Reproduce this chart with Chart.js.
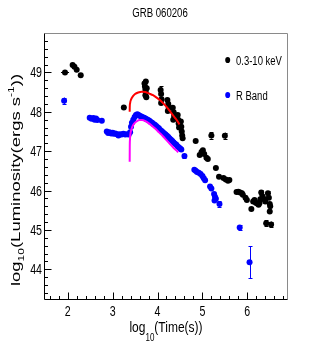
<!DOCTYPE html>
<html><head><meta charset="utf-8">
<script src="https://cdn.jsdelivr.net/npm/chart.js@4"></script>
<style>html,body{margin:0;padding:0;background:#fff;overflow:hidden}#wrap{width:319px;height:354px;position:relative}</style>
</head><body><div id="wrap"><canvas id="c" width="319" height="354"></canvas></div>
<script>
const chartTitle = "GRB 060206";
const xTickValues = [2, 3, 4, 5, 6];
const xTickLabels = ["2", "3", "4", "5", "6"];
const yTickValues = [44, 45, 46, 47, 48, 49];
const yTickLabels = ["44", "45", "46", "47", "48", "49"];
const legendLabels = ["0.3-10 keV", "R Band"];

// X-ray 0.3-10 keV: log10(time), log10(luminosity), error
const xrayTime = [1.94,2.11,2.15,2.20,2.29,3.25,3.71,3.72,3.73,3.74,3.73,3.75,3.74,3.76,
  4.07,4.08,4.09,4.08,4.22,4.24,4.25,4.23,4.34,4.36,4.37,4.35,4.45,4.46,4.47,4.48,
  4.52,4.53,4.54,4.55,4.56,4.85,4.94,4.98,5.01,5.04,5.09,5.12,5.20,5.30,5.37,5.47,
  5.52,5.57,5.60,5.50,5.76,5.80,5.84,5.88,5.90,5.96,5.99,6.09,6.13,6.16,6.19,6.22,
  6.25,6.27,6.29,6.31,6.34,6.38,6.40,6.46,6.48,6.50,6.51,6.50,6.42,6.53];
const xrayLum = [49.00,49.19,49.14,49.07,48.93,48.11,48.72,48.64,48.56,48.49,48.42,48.37,48.77,48.60,
  48.55,48.45,48.32,48.22,48.30,48.20,48.10,48.02,48.10,47.99,47.89,47.80,47.92,47.80,47.70,47.60,
  47.75,47.62,47.50,47.40,47.33,47.26,46.90,46.98,47.02,46.93,46.83,46.80,47.40,46.57,46.35,46.32,
  46.28,46.25,46.27,47.39,45.96,45.97,45.95,45.93,45.89,45.82,45.76,45.53,45.72,45.76,45.69,45.67,
  45.64,45.68,45.78,45.95,45.85,45.78,45.72,45.93,45.82,45.66,45.60,45.47,45.17,45.14];
const xrayErr = [0.04,0.04,0.04,0.04,0.04,0.05,0.05,0.05,0.05,0.05,0.05,0.05,0.05,0.05,
  0.10,0.05,0.05,0.05,0.05,0.05,0.05,0.05,0.05,0.05,0.05,0.05,0.05,0.05,0.05,0.05,
  0.05,0.05,0.05,0.05,0.05,0.04,0.04,0.04,0.04,0.04,0.04,0.04,0.08,0.04,0.04,0.04,
  0.04,0.04,0.04,0.08,0.04,0.04,0.04,0.04,0.04,0.04,0.04,0.05,0.05,0.05,0.05,0.05,
  0.05,0.05,0.05,0.06,0.05,0.05,0.05,0.06,0.05,0.05,0.05,0.05,0.07,0.07];
const xrayTimeErr = [0.09];

// R band optical
const rbandTime = [1.92,2.49,2.53,2.57,2.60,2.63,2.66,2.76,
  2.87,2.90,2.93,2.97,3.00,3.03,3.06,3.10,3.13,3.16,3.20,3.24,3.28,3.32,3.36,
  3.39,3.41,3.43,3.46,3.49,3.52,3.55,3.58,3.61,3.64,3.67,3.70,3.73,3.76,3.79,3.82,
  3.85,3.88,3.91,3.94,3.97,4.00,4.03,4.06,4.09,4.12,4.15,4.18,4.21,4.24,4.27,4.30,
  4.33,4.36,4.39,4.42,4.45,4.48,4.51,4.53,
  4.60,4.82,4.85,4.88,4.92,4.96,5.00,5.03,5.06,5.17,5.20,5.26,5.28,5.30,5.27,5.38,5.83,6.05];
const rbandLum = [48.28,47.85,47.82,47.84,47.80,47.83,47.79,47.77,
  47.50,47.46,47.48,47.45,47.47,47.44,47.45,47.43,47.40,47.43,47.42,47.44,47.42,47.43,47.42,
  47.48,47.62,47.72,47.80,47.87,47.92,47.94,47.92,47.89,47.88,47.86,47.85,47.83,47.81,47.79,47.77,
  47.74,47.72,47.69,47.67,47.64,47.61,47.58,47.54,47.51,47.48,47.45,47.42,47.39,47.36,47.32,47.29,
  47.26,47.22,47.19,47.16,47.12,47.09,47.06,47.04,
  46.88,46.53,46.50,46.47,46.45,46.42,46.37,46.31,46.26,46.10,46.05,45.91,45.84,45.79,45.75,45.66,45.06,44.18];
const rbandErr = [0.08,0.03,0.03,0.03,0.03,0.03,0.03,0.03,
  0.03,0.03,0.03,0.03,0.03,0.03,0.03,0.03,0.05,0.03,0.03,0.03,0.03,0.03,0.03,
  0.03,0.03,0.03,0.03,0.03,0.03,0.03,0.03,0.03,0.03,0.03,0.03,0.03,0.03,0.03,0.03,
  0.03,0.03,0.03,0.03,0.03,0.03,0.03,0.03,0.03,0.03,0.03,0.03,0.03,0.03,0.03,0.03,
  0.03,0.03,0.03,0.03,0.03,0.03,0.03,0.03,
  0.06,0.03,0.03,0.03,0.03,0.03,0.03,0.03,0.03,0.03,0.03,0.03,0.03,0.03,0.03,0.07,0.06,0.40];

// fitted model curves
const xrayFitTime = [3.38,3.382,3.39,3.41,3.45,3.50,3.57,3.65,3.73,3.82,3.90,3.98,4.06,4.14,4.22,4.30,4.38,4.44,4.49];
const xrayFitLum  = [48.00,48.12,48.22,48.31,48.39,48.45,48.49,48.51,48.50,48.46,48.42,48.36,48.29,48.20,48.10,47.98,47.86,47.77,47.68];
const rbandFitTime = [3.38,3.382,3.387,3.395,3.41,3.44,3.48,3.54,3.60,3.66,3.73,3.80,3.88,3.96,4.04,4.12,4.20,4.28,4.36,4.42,4.46];
const rbandFitLum  = [46.73,47.10,47.30,47.42,47.52,47.62,47.70,47.76,47.79,47.79,47.76,47.71,47.64,47.56,47.47,47.38,47.28,47.18,47.08,47.02,46.97];

const xMin = 1.472, xMax = 6.884, yMin = 43.246, yMax = 50.0;

function pts(xs, ys) { return xs.map((x, i) => ({x: x, y: ys[i]})); }

const FONT = '"Liberation Sans", Arial, sans-serif';
const SX = 0.76;
function ctext(ctx, str, x, y, size, align, sx) {
  ctx.save();
  ctx.font = size + 'px ' + FONT;
  const w = ctx.measureText(str).width * sx;
  let x0 = align === 'center' ? x - w / 2 : (align === 'right' ? x - w : x);
  ctx.translate(x0, y);
  ctx.scale(sx, 1);
  ctx.textAlign = 'left';
  ctx.textBaseline = 'alphabetic';
  ctx.fillStyle = '#000';
  ctx.fillText(str, 0, 0);
  ctx.restore();
  return w;
}
function tw(ctx, str, size) { ctx.font = size + 'px ' + FONT; return ctx.measureText(str).width; }

const decor = {
  id: 'decor',
  beforeDatasetsDraw(chart) {
    const ctx = chart.ctx, xs = chart.scales.x, ys = chart.scales.y;
    const groups = [
      {t: xrayTime, l: xrayLum, e: xrayErr, c: '#000000', te: xrayTimeErr},
      {t: rbandTime, l: rbandLum, e: rbandErr, c: '#0000ff', te: []}
    ];
    ctx.save();
    ctx.lineWidth = 1;
    groups.forEach(g => {
      ctx.strokeStyle = g.c;
      g.t.forEach((t, i) => {
        const px = Math.round(xs.getPixelForValue(t)) + 0.5;
        const y1 = ys.getPixelForValue(g.l[i] + g.e[i]);
        const y2 = ys.getPixelForValue(g.l[i] - g.e[i]);
        ctx.beginPath(); ctx.moveTo(px, y1); ctx.lineTo(px, y2); ctx.stroke();
        if (g.e[i] >= 0.06) {
          ctx.beginPath();
          ctx.moveTo(px - 2, Math.round(y1) + 0.5); ctx.lineTo(px + 2, Math.round(y1) + 0.5);
          ctx.moveTo(px - 2, Math.round(y2) + 0.5); ctx.lineTo(px + 2, Math.round(y2) + 0.5);
          ctx.stroke();
        }
        if (g.te[i]) {
          const py = Math.round(ys.getPixelForValue(g.l[i])) + 0.5;
          ctx.beginPath();
          ctx.moveTo(xs.getPixelForValue(t - g.te[i]), py);
          ctx.lineTo(xs.getPixelForValue(t + g.te[i]), py);
          ctx.stroke();
        }
      });
    });
    ctx.restore();
  },
  afterDraw(chart) {
    const ctx = chart.ctx, xs = chart.scales.x, ys = chart.scales.y, a = chart.chartArea;
    const L = Math.round(a.left) + 0.5, R = Math.round(a.right) + 0.5, T = Math.round(a.top) + 0.5, B = Math.round(a.bottom) + 0.5;
    ctx.save();
    // frame
    ctx.lineWidth = 1;
    ctx.strokeStyle = '#8a8a8a';
    ctx.beginPath(); ctx.moveTo(L, T); ctx.lineTo(R, T); ctx.lineTo(R, B); ctx.stroke();
    ctx.strokeStyle = '#000';
    ctx.beginPath(); ctx.moveTo(L, T); ctx.lineTo(L, B); ctx.lineTo(R, B); ctx.stroke();
    // ticks
    ctx.beginPath();
    for (let k = Math.ceil(xMin * 5); k <= Math.floor(xMax * 5); k++) {
      const v = k / 5; const major = Math.abs(v - Math.round(v)) < 1e-6;
      const px = Math.round(xs.getPixelForValue(v)) + 0.5;
      ctx.moveTo(px, B); ctx.lineTo(px, B - (major ? 7 : 3.5));
    }
    for (let k = Math.ceil(yMin * 5); k <= Math.floor(yMax * 5 - 0.01); k++) {
      const v = k / 5; const major = Math.abs(v - Math.round(v)) < 1e-6;
      const py = Math.round(ys.getPixelForValue(v)) + 0.5;
      ctx.moveTo(L, py); ctx.lineTo(L + (major ? 7 : 3.5), py);
    }
    ctx.stroke();
    // tick labels
    xTickValues.forEach((v, i) => ctext(ctx, xTickLabels[i], xs.getPixelForValue(v), 316, 14, 'center', SX));
    yTickValues.forEach((v, i) => ctext(ctx, yTickLabels[i], 42, ys.getPixelForValue(v) + 5, 14, 'right', SX));
    // title
    ctext(ctx, chartTitle, 160, 16.5, 12, 'center', 0.8);
    // x title: log_10(Time(s))
    {
      const s1 = 'log', s2 = '10', s3 = '(Time(s))';
      const w = (tw(ctx, s1, 15) + tw(ctx, s2, 10) + tw(ctx, s3, 15)) * 0.8;
      let x = 166 - w / 2;
      x += ctext(ctx, s1, x, 332, 15, 'left', 0.8);
      x += ctext(ctx, s2, x, 341, 10, 'left', 0.8);
      ctext(ctx, s3, x, 332, 15, 'left', 0.8);
    }
    // y title: log_10(Luminosity(ergs s^-1))
    {
      const parts = [['log', 18.5, 0], ['10', 12, 6], ['(Luminosity(ergs s', 18.5, 0], ['-1', 12, -8], ['))', 18.5, 0]];
      let total = 0; parts.forEach(p => total += tw(ctx, p[0], p[1]));
      ctx.save();
      ctx.translate(19.5, 180);
      ctx.rotate(-Math.PI / 2);
      ctx.scale(1, 0.72);
      ctx.fillStyle = '#000';
      ctx.textBaseline = 'alphabetic';
      let u = -total / 2;
      parts.forEach(p => {
        ctx.font = p[1] + 'px ' + FONT;
        ctx.fillText(p[0], u, p[2]);
        u += ctx.measureText(p[0]).width;
      });
      ctx.restore();
    }
    // legend
    const legColors = ['#000000', '#0000ff'];
    const legY = [60, 95];
    legendLabels.forEach((lab, i) => {
      ctx.fillStyle = legColors[i];
      ctx.beginPath(); ctx.ellipse(227.7, legY[i], 2.5, 3.1, 0, 0, Math.PI * 2); ctx.fill();
      ctext(ctx, lab, 236, legY[i] + 4.5, 12.5, 'left', SX);
    });
    ctx.restore();
  }
};

new Chart(document.getElementById('c'), {
  type: 'scatter',
  data: {
    datasets: [
      {label: 'fit X', data: pts(xrayFitTime, xrayFitLum), showLine: true, borderColor: '#ff0000', borderWidth: 2,
       pointRadius: 0, cubicInterpolationMode: 'monotone', order: 0},
      {label: 'fit R', data: pts(rbandFitTime, rbandFitLum), showLine: true, borderColor: '#ff00ff', borderWidth: 2,
       pointRadius: 0, cubicInterpolationMode: 'monotone', order: 1},
      {label: legendLabels[0], data: pts(xrayTime, xrayLum), backgroundColor: '#000000', borderWidth: 0,
       pointRadius: 3, order: 3},
      {label: legendLabels[1], data: pts(rbandTime, rbandLum), backgroundColor: '#0000ff', borderWidth: 0,
       pointRadius: 3, order: 2}
    ]
  },
  options: {
    responsive: false, animation: false, devicePixelRatio: 1,
    layout: {padding: {left: 44, right: 32, top: 33, bottom: 55}},
    plugins: {legend: {display: false}, tooltip: {enabled: false}, title: {display: false}},
    scales: {
      x: {type: 'linear', min: xMin, max: xMax, display: false},
      y: {type: 'linear', min: yMin, max: yMax, display: false}
    }
  },
  plugins: [decor]
});
</script></body></html>
